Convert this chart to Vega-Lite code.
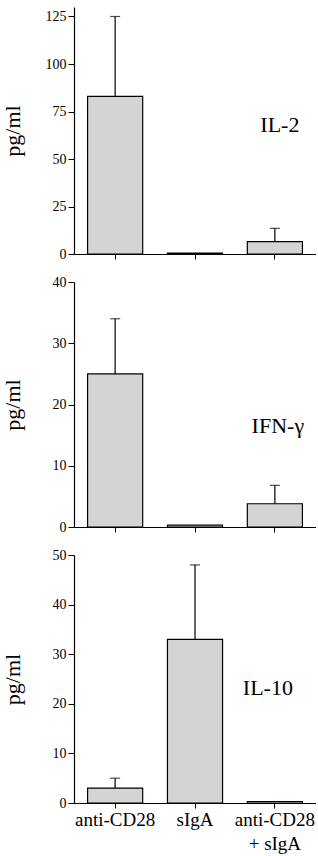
{
  "$schema": "https://vega.github.io/schema/vega-lite/v6.json",
  "padding": {"left": 1, "top": 7, "right": 0, "bottom": 2},
  "config": {
    "font": "Liberation Serif",
    "view": {"stroke": null},
    "axis": {
      "grid": false,
      "domainColor": "black",
      "tickColor": "black",
      "labelColor": "black",
      "titleColor": "black",
      "labelFont": "Liberation Serif",
      "titleFont": "Liberation Serif",
      "labelFontSize": 14,
      "titleFontSize": 22,
      "titleFontWeight": "normal",
      "domainWidth": 1.2,
      "tickWidth": 1
    },
    "axisY": {"tickSize": 6, "labelPadding": 2, "titleX": -50},
    "axisX": {"tickSize": 5, "labelAngle": 0, "labelFontSize": 19, "labelPadding": 2, "labelLineHeight": 24, "bandPosition": 0.5},
    "text": {"font": "Liberation Serif"}
  },
  "datasets": {
    "bars": [
      {"panel": "IL-2", "group": "anti-CD28", "value": 83, "upper": 125},
      {"panel": "IL-2", "group": "sIgA", "value": 0.5, "upper": 0.5},
      {"panel": "IL-2", "group": "anti-CD28 + sIgA", "value": 6.5, "upper": 13.5},
      {"panel": "IFN-γ", "group": "anti-CD28", "value": 25, "upper": 34},
      {"panel": "IFN-γ", "group": "sIgA", "value": 0.3, "upper": 0.3},
      {"panel": "IFN-γ", "group": "anti-CD28 + sIgA", "value": 3.8, "upper": 6.8},
      {"panel": "IL-10", "group": "anti-CD28", "value": 3, "upper": 5},
      {"panel": "IL-10", "group": "sIgA", "value": 33, "upper": 48},
      {"panel": "IL-10", "group": "anti-CD28 + sIgA", "value": 0.3, "upper": 0.3}
    ],
    "labels": [
      {"panel": "IL-2", "group": "anti-CD28 + sIgA", "at": 68},
      {"panel": "IFN-γ", "group": "anti-CD28 + sIgA", "at": 16.5},
      {"panel": "IL-10", "group": "anti-CD28 + sIgA", "at": 23.2}
    ]
  },
  "spacing": 28,
  "bounds": "flush",
  "vconcat": [
    {
      "width": 242,
      "height": 247,
      "layer": [
        {
          "data": {"name": "bars"},
          "transform": [{"filter": "datum.panel == 'IL-2'"}],
          "mark": {"type": "bar", "fill": "#d4d4d4", "stroke": "black", "strokeWidth": 1.2},
          "encoding": {
            "x": {"field": "group", "type": "nominal", "sort": null, "scale": {"paddingInner": 0.31, "paddingOuter": 0.17}, "axis": {"title": null, "labels": false}},
            "y": {"field": "value", "type": "quantitative", "scale": {"domain": [0, 130], "nice": false}, "axis": {"title": "pg/ml", "values": [0, 25, 50, 75, 100, 125]}}
          }
        },
        {
          "data": {"name": "bars"},
          "transform": [{"filter": "datum.panel == 'IL-2' && datum.upper > datum.value"}],
          "mark": {"type": "rule", "color": "black", "strokeWidth": 1.2},
          "encoding": {
            "x": {"field": "group", "type": "nominal", "sort": null},
            "y": {"field": "value", "type": "quantitative"},
            "y2": {"field": "upper"}
          }
        },
        {
          "data": {"name": "bars"},
          "transform": [{"filter": "datum.panel == 'IL-2' && datum.upper > datum.value"}],
          "mark": {"type": "tick", "color": "black", "thickness": 1.2, "size": 10},
          "encoding": {
            "x": {"field": "group", "type": "nominal", "sort": null},
            "y": {"field": "upper", "type": "quantitative"}
          }
        },
        {
          "data": {"name": "labels"},
          "transform": [{"filter": "datum.panel == 'IL-2'"}],
          "mark": {"type": "text", "fontSize": 22, "color": "black", "dx": 5, "baseline": "middle"},
          "encoding": {
            "x": {"field": "group", "type": "nominal", "sort": null},
            "y": {"field": "at", "type": "quantitative"},
            "text": {"field": "panel"}
          }
        }
      ]
    },
    {
      "width": 242,
      "height": 245,
      "layer": [
        {
          "data": {"name": "bars"},
          "transform": [{"filter": "datum.panel == 'IFN-γ'"}],
          "mark": {"type": "bar", "fill": "#d4d4d4", "stroke": "black", "strokeWidth": 1.2},
          "encoding": {
            "x": {"field": "group", "type": "nominal", "sort": null, "scale": {"paddingInner": 0.31, "paddingOuter": 0.17}, "axis": {"title": null, "labels": false}},
            "y": {"field": "value", "type": "quantitative", "scale": {"domain": [0, 40], "nice": false}, "axis": {"title": "pg/ml", "values": [0, 10, 20, 30, 40]}}
          }
        },
        {
          "data": {"name": "bars"},
          "transform": [{"filter": "datum.panel == 'IFN-γ' && datum.upper > datum.value"}],
          "mark": {"type": "rule", "color": "black", "strokeWidth": 1.2},
          "encoding": {
            "x": {"field": "group", "type": "nominal", "sort": null},
            "y": {"field": "value", "type": "quantitative"},
            "y2": {"field": "upper"}
          }
        },
        {
          "data": {"name": "bars"},
          "transform": [{"filter": "datum.panel == 'IFN-γ' && datum.upper > datum.value"}],
          "mark": {"type": "tick", "color": "black", "thickness": 1.2, "size": 10},
          "encoding": {
            "x": {"field": "group", "type": "nominal", "sort": null},
            "y": {"field": "upper", "type": "quantitative"}
          }
        },
        {
          "data": {"name": "labels"},
          "transform": [{"filter": "datum.panel == 'IFN-γ'"}],
          "mark": {"type": "text", "fontSize": 22, "color": "black", "dx": 3, "baseline": "middle"},
          "encoding": {
            "x": {"field": "group", "type": "nominal", "sort": null},
            "y": {"field": "at", "type": "quantitative"},
            "text": {"field": "panel"}
          }
        }
      ]
    },
    {
      "width": 242,
      "height": 248,
      "layer": [
        {
          "data": {"name": "bars"},
          "transform": [{"filter": "datum.panel == 'IL-10'"}],
          "mark": {"type": "bar", "fill": "#d4d4d4", "stroke": "black", "strokeWidth": 1.2},
          "encoding": {
            "x": {"field": "group", "type": "nominal", "sort": null, "scale": {"paddingInner": 0.31, "paddingOuter": 0.17}, "axis": {"title": null, "labelExpr": "datum.value == 'anti-CD28 + sIgA' ? ['anti-CD28', '+ sIgA'] : datum.label"}},
            "y": {"field": "value", "type": "quantitative", "scale": {"domain": [0, 50], "nice": false}, "axis": {"title": "pg/ml", "values": [0, 10, 20, 30, 40, 50]}}
          }
        },
        {
          "data": {"name": "bars"},
          "transform": [{"filter": "datum.panel == 'IL-10' && datum.upper > datum.value"}],
          "mark": {"type": "rule", "color": "black", "strokeWidth": 1.2},
          "encoding": {
            "x": {"field": "group", "type": "nominal", "sort": null},
            "y": {"field": "value", "type": "quantitative"},
            "y2": {"field": "upper"}
          }
        },
        {
          "data": {"name": "bars"},
          "transform": [{"filter": "datum.panel == 'IL-10' && datum.upper > datum.value"}],
          "mark": {"type": "tick", "color": "black", "thickness": 1.2, "size": 10},
          "encoding": {
            "x": {"field": "group", "type": "nominal", "sort": null},
            "y": {"field": "upper", "type": "quantitative"}
          }
        },
        {
          "data": {"name": "labels"},
          "transform": [{"filter": "datum.panel == 'IL-10'"}],
          "mark": {"type": "text", "fontSize": 22, "color": "black", "dx": -7, "baseline": "middle"},
          "encoding": {
            "x": {"field": "group", "type": "nominal", "sort": null},
            "y": {"field": "at", "type": "quantitative"},
            "text": {"field": "panel"}
          }
        }
      ]
    }
  ]
}
